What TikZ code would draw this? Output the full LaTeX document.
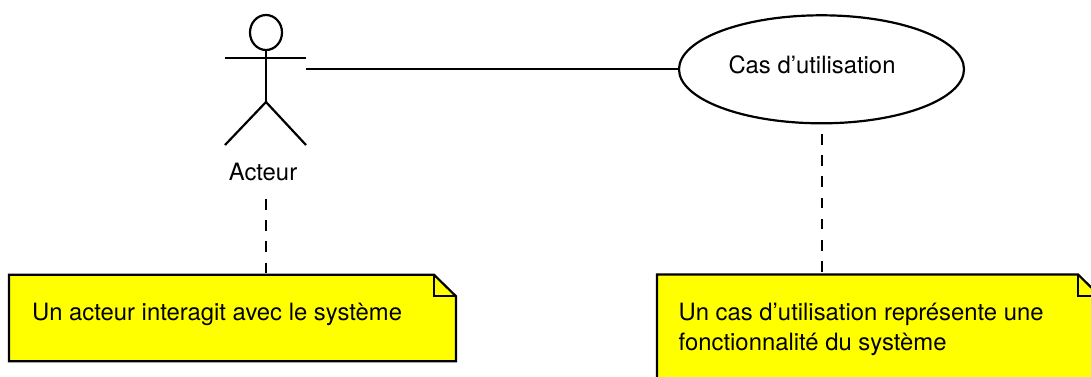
\documentclass[tikz,border=0pt]{standalone}
\usepackage{fontspec}
\setmainfont{TeX Gyre Heros}
\usetikzlibrary{shapes.geometric}
\definecolor{noteyellow}{RGB}{255,255,0}
\tikzset{
  ln/.style={draw=black,line width=2.2pt},
  dashln/.style={draw=black,line width=2.2pt,dash pattern=on 10.5pt off 10.7pt},
  lbl/.style={font=\fontsize{23.85}{30}\selectfont,text=black,inner sep=0pt},
  notebox/.style={inner sep=0pt,outer sep=0pt},
  notefill/.style={fill=noteyellow,draw=black,line width=2.2pt,line join=miter},
  holder/.style={inner sep=0pt,outer sep=0pt}
}
\begin{document}
\begin{tikzpicture}[x=1pt,y=-1pt]
\useasboundingbox (0,0) rectangle (1091,376);
\clip (0,0) rectangle (1091,376);
\fill[white] (0,0) rectangle (1091,376);
% actor
\node[holder,minimum width=81pt,minimum height=130pt] (actor) at (265.5,80) {};
\node[ln,ellipse,inner sep=0pt,minimum width=32pt,minimum height=35pt] (head) at (266,32.5) {};
\coordinate (hip) at (266,102);
\draw[ln] (head.south) -- (hip);
\draw[ln] (actor.west |- 0,58.3) -- (actor.east |- 0,58.3);
\draw[ln,line join=miter] (actor.south west) -- (hip) -- (actor.south east);
\node[lbl] (acteur) at (263,172) {Acteur};
% use case
\node[ln,ellipse,inner sep=0pt,minimum width=285pt,minimum height=108pt] (usecase) at (821.5,69.3) {};
\node[lbl,anchor=base] (uctext) at (812,73) {Cas d’utilisation};
\draw[ln] (actor.east |- usecase.west) -- (usecase.west);
% notes
\node[notebox,minimum width=447pt,minimum height=86.5pt] (note1) at (232.5,318) {};
\node[notebox,minimum width=443pt,minimum height=116pt] (note2) at (878.5,332.5) {};
\draw[notefill] (note1.south west) -- (note1.north west) -- ([xshift=-22pt]note1.north east) -- ([yshift=-21.5pt]note1.north east) -- (note1.south east) -- cycle;
\draw[ln,line join=miter] ([xshift=-22pt]note1.north east) -- ([xshift=-22pt,yshift=-21.5pt]note1.north east) -- ([yshift=-21.5pt]note1.north east);
\draw[notefill] (note2.south west) -- (note2.north west) -- ([xshift=-22pt]note2.north east) -- ([yshift=-21.5pt]note2.north east) -- (note2.south east) -- cycle;
\draw[ln,line join=miter] ([xshift=-22pt]note2.north east) -- ([xshift=-22pt,yshift=-21.5pt]note2.north east) -- ([yshift=-21.5pt]note2.north east);
\node[lbl,anchor=base west] (n1text) at (32,320) {Un acteur interagit avec le système};
\node[lbl,anchor=base west,align=left] (n2text) at (678.5,350) {Un cas d’utilisation représente une\\fonctionnalité du système};
% dashed links
\coordinate (a1) at (265.7,199);
\coordinate (u1) at (821.7,134);
\draw[dashln] (a1) -- (note1.north -| a1);
\draw[dashln] (u1) -- (note2.north -| u1);
\end{tikzpicture}
\end{document}
